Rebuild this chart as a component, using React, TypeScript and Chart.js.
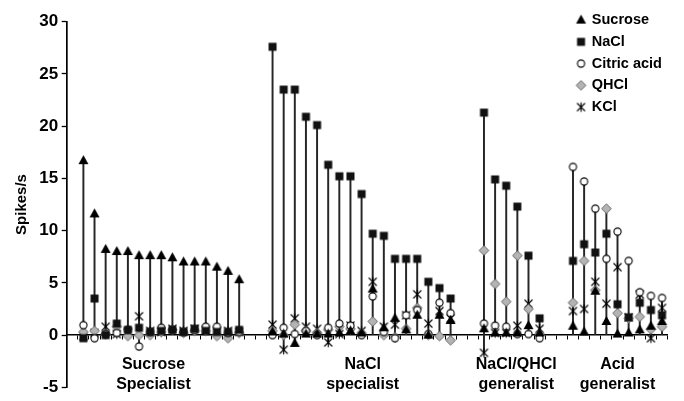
import React, { useEffect, useRef } from 'react';
import { Chart, registerables } from 'chart.js';

Chart.register(...registerables);

// ---- data ----
const groupSizes = [15, 17, 6, 9];
const groupLabels = [
  ['Sucrose', 'Specialist'],
  ['NaCl', 'specialist'],
  ['NaCl/QHCl', 'generalist'],
  ['Acid', 'generalist'],
];
const groupPrefixes = ['S', 'N', 'G', 'A'];
// tick positions (category index units) of the group labels
const groupLabelPos = [7.3, 26.1, 39.9, 49.0];
const seriesNames = ['Sucrose', 'NaCl', 'Citric acid', 'QHCl', 'KCl'];
const yTicks = [-5, 0, 5, 10, 15, 20, 25, 30];

const sucrose = [
  16.7, 11.6, 8.2, 8.0, 8.0, 7.6, 7.6, 7.6, 7.4, 7.0, 7.0, 7.0, 6.5, 6.1, 5.3,
  0.3, 0.1, -0.8, 0.1, 0.1, 0.1, 0.2, 0.4, 0.2, 4.4, 0.7, 1.6, 0.5, 1.9, 0.0, 1.9, 1.4,
  0.6, 0.2, 0.2, 0.2, 0.9, 0.2,
  0.85, 0.3, 4.2, 1.3, 0.1, 0.2, 0.5, 0.85, 1.3,
];
const nacl = [
  -0.3, 3.5, 0.0, 1.1, 0.5, 0.7, 0.3, 0.4, 0.5, 0.3, 0.6, 0.4, 0.3, 0.3, 0.5,
  27.6, 23.5, 23.5, 20.9, 20.1, 16.3, 15.2, 15.2, 13.5, 9.7, 9.5, 7.3, 7.3, 7.3, 5.1, 4.5, 3.5,
  21.3, 14.9, 14.3, 12.3, 7.6, 1.6,
  7.1, 8.7, 7.9, 9.7, 2.95, 1.7, 3.1, 2.4, 1.9,
];
const citric = [
  0.95, -0.3, 0.1, 0.2, 0.5, -1.1, 0.3, 0.7, 0.5, 0.3, 0.5, 0.8, 0.8, 0.2, 0.3,
  0.0, 0.7, 0.1, 0.4, 0.0, 0.7, 1.1, 0.9, 0.0, 3.7, 0.3, -0.3, 1.9, 2.4, 0.1, 3.1, 2.1,
  1.1, 0.9, 0.8, 0.1, 0.1, -0.3,
  16.1, 14.7, 12.1, 7.3, 9.9, 7.1, 4.1, 3.75, 3.55,
];
const qhcl = [
  0.3, 0.4, 0.1, 0.8, -0.1, 0.0, 0.0, 0.3, 0.5, 0.2, 0.4, 0.4, -0.1, -0.3, 0.2,
  0.4, 0.0, 1.0, 0.4, 0.2, 0.5, 0.8, 0.6, 0.2, 1.3, 0.0, -0.2, 0.6, 2.6, 0.0, -0.1, -0.5,
  8.1, 4.9, 3.2, 7.6, 2.5, 0.1,
  3.1, 7.1, 4.3, 12.1, 2.1, 1.6, 1.75, 0.55, 0.8,
];
const kcl = [
  -0.1, 0.2, 0.8, 0.1, 0.3, 1.8, 0.4, 0.3, 0.6, 0.4, 0.6, 0.5, 0.4, 0.4, 0.3,
  1.0, -1.4, 1.6, 0.8, 0.6, -0.7, 0.1, 0.9, 0.4, 5.1, 0.8, 1.0, 1.9, 3.9, 1.1, 2.3, 1.6,
  -1.7, 0.2, 0.2, 0.9, 3.0, 0.6,
  2.3, 2.5, 5.1, 3.0, 6.5, 1.7, 3.9, -0.3, 2.6,
];

const FONT = "'Liberation Sans', Arial, Helvetica, sans-serif";

function makeMarker(kind: string): HTMLCanvasElement {
  const c = document.createElement('canvas');
  const S = 13;
  c.width = S;
  c.height = S;
  const g = c.getContext('2d')!;
  const m = S / 2;
  g.lineJoin = 'miter';
  if (kind === 'triangle') {
    g.beginPath();
    g.moveTo(m, m - 5.4);
    g.lineTo(m + 5.0, m + 3.5);
    g.lineTo(m - 5.0, m + 3.5);
    g.closePath();
    g.fillStyle = '#000';
    g.fill();
  } else if (kind === 'square') {
    g.fillStyle = '#111';
    g.fillRect(m - 4, m - 4, 8, 8);
  } else if (kind === 'circle') {
    g.beginPath();
    g.arc(m, m, 3.6, 0, Math.PI * 2);
    g.fillStyle = '#fff';
    g.fill();
    g.lineWidth = 1.1;
    g.strokeStyle = '#000';
    g.stroke();
  } else if (kind === 'diamond') {
    g.beginPath();
    g.moveTo(m, m - 4.8);
    g.lineTo(m + 4.8, m);
    g.lineTo(m, m + 4.8);
    g.lineTo(m - 4.8, m);
    g.closePath();
    g.fillStyle = '#b4b4b4';
    g.fill();
    g.lineWidth = 1;
    g.strokeStyle = '#6a6a6a';
    g.stroke();
  } else {
    g.beginPath();
    g.moveTo(m - 4, m - 4);
    g.lineTo(m + 4, m + 4);
    g.moveTo(m + 4, m - 4);
    g.lineTo(m - 4, m + 4);
    g.moveTo(m, m - 4.8);
    g.lineTo(m, m + 4.8);
    g.lineWidth = 1.1;
    g.strokeStyle = '#000';
    g.stroke();
  }
  return c;
}

export default function App() {
  const ref = useRef<HTMLCanvasElement | null>(null);

  useEffect(() => {
    if (!ref.current) return;
    const series = [sucrose, nacl, citric, qhcl, kcl];
    const markerKinds = ['triangle', 'square', 'circle', 'diamond', 'star'];

    // build slots: one leading empty slot, two empty slots between groups
    const labels: string[] = [''];
    const slotIdx: number[] = [-1];
    let n = 0;
    groupSizes.forEach((size, g) => {
      if (g > 0) {
        labels.push('', '');
        slotIdx.push(-1, -1);
      }
      for (let i = 0; i < size; i++) {
        labels.push(groupPrefixes[g] + (i + 1));
        slotIdx.push(n++);
      }
    });

    const slotData = series.map((s) => slotIdx.map((k) => (k < 0 ? null : s[k])));
    const stems = slotIdx.map((k) => {
      if (k < 0) return null;
      const vals = series.map((s) => s[k]);
      return [Math.min(0, ...vals), Math.max(...vals)];
    });

    const markerDatasets = series.map((_, i) => ({
      type: 'line' as const,
      label: seriesNames[i],
      data: slotData[i],
      showLine: false,
      pointStyle: makeMarker(markerKinds[i]),
      pointRadius: 5,
      pointHoverRadius: 5,
      borderColor: '#000',
      backgroundColor: '#000',
      xAxisID: 'x',
      yAxisID: 'y',
    }));

    const LEGEND_LEFT = 562.3;
    const LEGEND_TOP = -2.4;
    const moveLegend = {
      id: 'moveLegend',
      afterLayout(chart: any) {
        const l = chart.legend;
        if (!l) return;
        const h = l.height;
        l.left = LEGEND_LEFT;
        l.top = LEGEND_TOP;
        l.right = chart.width;
        l.bottom = LEGEND_TOP + Math.max(h, 140);
        l.width = l.right - l.left;
        l.height = l.bottom - l.top;
      },
    };

    const chart = new Chart(ref.current, {
      type: 'line',
      data: {
        labels,
        datasets: [
          ...markerDatasets,
          {
            type: 'bar' as const,
            label: 'range',
            data: stems as any,
            barThickness: 1.3,
            backgroundColor: '#262626',
            borderWidth: 0,
            xAxisID: 'x',
            yAxisID: 'y',
          } as any,
        ],
      },
      options: {
        responsive: false,
        animation: false,
        events: [],
        layout: { padding: { left: 0, right: 5, top: 12, bottom: 13.5 } },
        scales: {
          x: {
            type: 'category',
            axis: 'x',
            position: { y: 0 } as any,
            offset: true,
            grid: {
              offset: true,
              drawOnChartArea: false,
              drawTicks: true,
              tickLength: 4,
              tickColor: '#000',
              tickWidth: 1,
            },
            border: { color: '#000', width: 1.5 },
            ticks: { autoSkip: false, maxRotation: 0, callback: () => '' },
          },
          xg: {
            type: 'linear',
            axis: 'x',
            position: { y: 0 } as any,
            min: -0.5,
            max: 53.5,
            grid: { display: false, drawTicks: false },
            border: { display: false },
            afterBuildTicks: (s: any) => {
              s.ticks = groupLabelPos.map((v) => ({ value: v }));
            },
            ticks: {
              autoSkip: false,
              maxRotation: 0,
              padding: 20,
              color: '#000',
              font: { family: FONT, size: 16, weight: 'bold', lineHeight: 1.25 },
              callback: (_v: any, i: number) => groupLabels[i],
            },
          } as any,
          y: {
            type: 'linear',
            position: 'left',
            min: -5,
            max: 30,
            afterBuildTicks: (s: any) => {
              s.ticks = yTicks.map((v) => ({ value: v }));
            },
            afterFit: (s: any) => {
              s.width = 58.7;
            },
            grid: {
              drawOnChartArea: false,
              tickLength: 5,
              tickColor: '#000',
              tickWidth: 1.3,
            },
            border: { color: '#000', width: 1.7 },
            ticks: {
              padding: 3.5,
              color: '#000',
              font: { family: FONT, size: 17, weight: 'bold' },
            },
            title: {
              display: true,
              text: 'Spikes/s',
              color: '#000',
              font: { family: FONT, size: 15, weight: 'bold' },
              padding: { top: 4.5, bottom: 0 },
            },
          },
        },
        plugins: {
          tooltip: { enabled: false },
          legend: {
            position: 'chartArea',
            align: 'start',
            labels: {
              usePointStyle: true,
              boxWidth: 7,
              boxHeight: 7,
              padding: 7.25,
              color: '#000',
              font: { family: FONT, size: 14.5, weight: 'bold' },
              filter: (item: any) => item.datasetIndex < 5,
            },
          },
        },
      },
      plugins: [moveLegend],
    } as any);

    return () => chart.destroy();
  }, []);

  return (
    <div style={{ width: 668, height: 393 }}>
      <canvas ref={ref} width={668} height={393} style={{ display: 'block' }} />
    </div>
  );
}
